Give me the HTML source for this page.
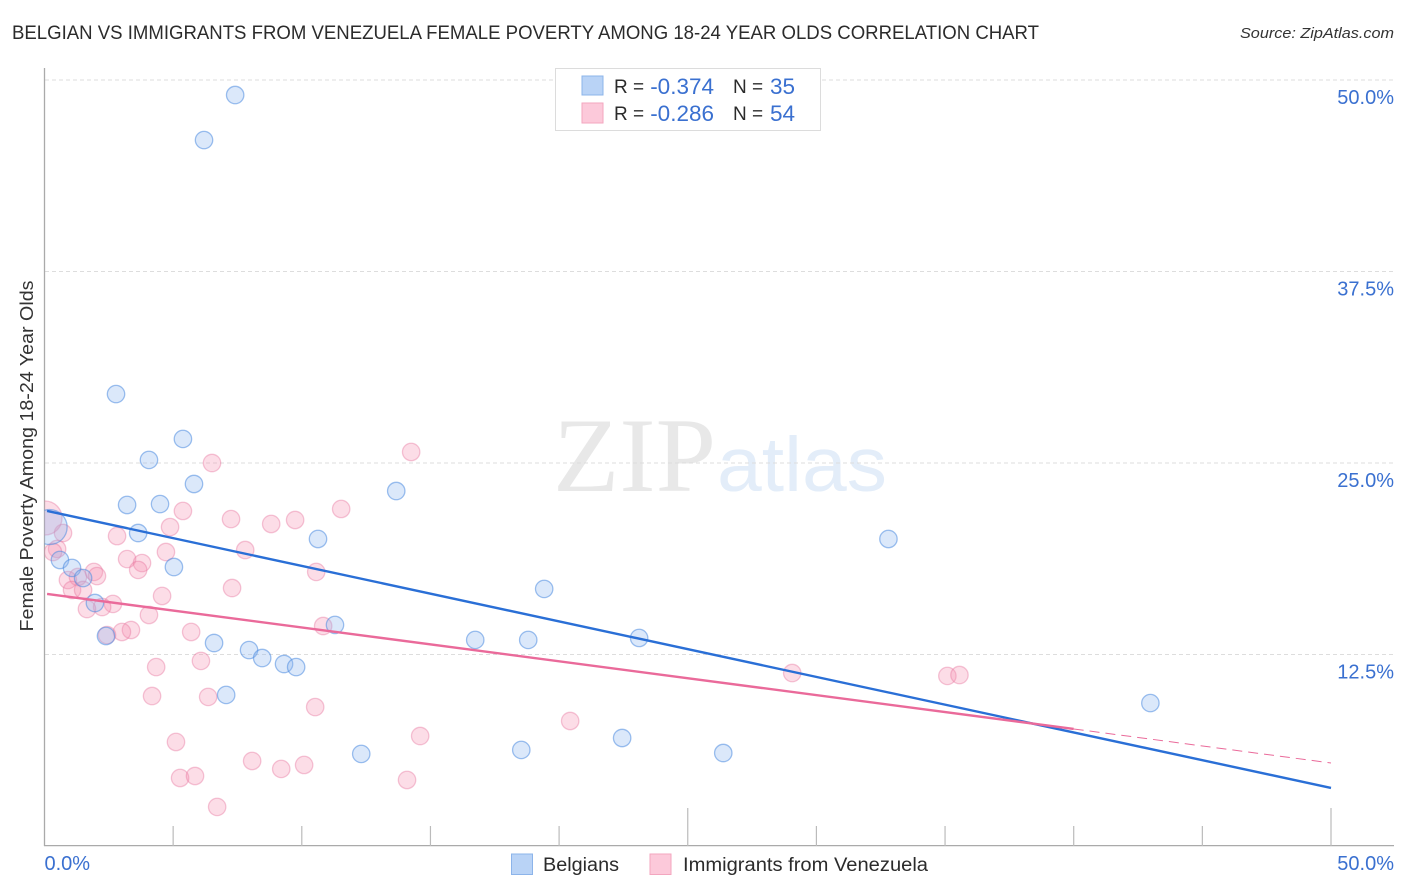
<!DOCTYPE html>
<html lang="en">
<head>
<meta charset="utf-8">
<title>Belgian vs Immigrants from Venezuela Female Poverty Correlation Chart</title>
<style>
html,body{margin:0;padding:0;background:#fff;width:1406px;height:892px;overflow:hidden}
svg{display:block;font-family:"Liberation Sans",sans-serif}
</style>
</head>
<body>
<svg id="chart" xmlns="http://www.w3.org/2000/svg" width="1406" height="892" viewBox="0 0 1406 892">
  <defs>
    <clipPath id="plot-clip"><rect x="44.5" y="60" width="1350" height="786"/></clipPath>
  </defs>
  <text x="12" y="39" font-size="19" fill="#2b2b2b" textLength="1027" lengthAdjust="spacingAndGlyphs">BELGIAN VS IMMIGRANTS FROM VENEZUELA FEMALE POVERTY AMONG 18-24 YEAR OLDS CORRELATION CHART</text>
  <text x="1394" y="38" font-size="15" font-style="italic" fill="#333" text-anchor="end" textLength="154" lengthAdjust="spacingAndGlyphs">Source: ZipAtlas.com</text>
  <g>
    <text x="553" y="491" font-size="106" font-family="'Liberation Serif',serif" fill="#e8e8e8" textLength="163" lengthAdjust="spacingAndGlyphs">ZIP</text>
    <text x="717" y="491" font-size="77" fill="#e3edf9" textLength="170" lengthAdjust="spacingAndGlyphs">atlas</text>
  </g>
  <g id="grid"></g>
  <g id="axes"></g>
  <g id="pts-pink" clip-path="url(#plot-clip)"></g>
  <g id="pts-blue" clip-path="url(#plot-clip)"></g>
  <g id="trends"></g>
  <text transform="translate(33,456) rotate(-90)" font-size="18" fill="#333" text-anchor="middle" textLength="351" lengthAdjust="spacingAndGlyphs">Female Poverty Among 18-24 Year Olds</text>
  <g>
    <rect x="555.5" y="68.5" width="265" height="62" fill="#fff" stroke="#dcdcdc"/>
    <rect x="582" y="76" width="21" height="19" fill="#b9d3f6" stroke="#8cb4ea"/>
    <rect x="582" y="103" width="21" height="20" fill="#fcc9da" stroke="#f3a6bf"/>
    <g font-size="20" fill="#2b2b2b">
      <text x="614" y="93" font-size="19">R =</text>
      <text x="733" y="93" font-size="19">N =</text>
      <text x="614" y="120" font-size="19">R =</text>
      <text x="733" y="120" font-size="19">N =</text>
    </g>
    <g font-size="22.5" fill="#3a70d0" text-anchor="end">
      <text x="714" y="94">-0.374</text>
      <text x="795" y="94">35</text>
      <text x="714" y="121">-0.286</text>
      <text x="795" y="121">54</text>
    </g>
  </g>
  <g>
    <rect x="511.5" y="854" width="21" height="20.5" fill="#b9d3f6" stroke="#8cb4ea"/>
    <text x="543" y="871" font-size="19" fill="#2b2b2b" textLength="76" lengthAdjust="spacingAndGlyphs">Belgians</text>
    <rect x="650" y="854" width="21" height="20.5" fill="#fcc9da" stroke="#f3a6bf"/>
    <text x="683" y="871" font-size="19" fill="#2b2b2b" textLength="245" lengthAdjust="spacingAndGlyphs">Immigrants from Venezuela</text>
  </g>
</svg>
<script>
const yTickValues = [12.5, 25, 37.5, 50];
const yTickLabels = ["12.5%", "25.0%", "37.5%", "50.0%"];
const xTickValues = [5, 10, 15, 20, 25, 30, 35, 40, 45, 50];
const xMajorTicks = [25, 50];
const xEndLabels = ["0.0%", "50.0%"];

const belgianX = [7.41,6.20,2.78,5.38,4.06,5.81,13.67,3.21,4.49,3.64,10.63,32.80,0.60,1.07,1.50,5.03,19.42,1.96,2.39,6.59,11.29,16.74,18.80,23.11,7.95,8.46,9.31,9.78,7.06,42.98,12.31,18.53,22.45,26.38,0.20];
const belgianY = [49.02,46.08,29.50,26.57,25.20,23.63,23.17,22.26,22.32,20.43,20.04,20.04,18.67,18.15,17.49,18.21,16.78,15.86,13.71,13.25,14.43,13.45,13.45,13.58,12.79,12.27,11.88,11.68,9.86,9.33,6.01,6.27,7.05,6.07,20.82];
const belgianSize = [8.7,8.7,8.7,8.7,8.7,8.7,8.7,8.7,8.7,8.7,8.7,8.7,8.7,8.7,8.7,8.7,8.7,8.7,8.7,8.7,8.7,8.7,8.7,8.7,8.7,8.7,8.7,8.7,8.7,8.7,8.7,8.7,8.7,8.7,17.5];

const venezuelaX = [14.25,6.51,11.53,5.38,7.25,8.81,9.74,4.88,2.82,0.72,0.02,7.80,4.72,0.49,0.33,3.21,3.79,3.64,10.56,1.92,2.04,0.91,1.30,1.07,1.50,7.29,4.57,2.66,2.24,1.65,4.06,10.83,5.70,3.36,3.01,2.43,6.08,4.34,29.06,35.09,35.56,4.18,6.36,10.52,20.43,14.60,5.11,8.07,9.20,10.09,14.09,5.27,5.85,6.71];
const venezuelaY = [25.72,25.00,22.00,21.87,21.34,21.02,21.28,20.82,20.23,20.43,21.41,19.32,19.19,19.39,19.19,18.73,18.47,18.02,17.89,17.89,17.62,17.36,17.56,16.71,16.71,16.84,16.32,15.80,15.60,15.47,15.08,14.36,13.97,14.10,13.97,13.77,12.08,11.68,11.29,11.10,11.16,9.79,9.73,9.07,8.16,7.18,6.79,5.55,5.03,5.29,4.31,4.44,4.57,2.55];
const venezuelaSize = [8.7,8.7,8.7,8.7,8.7,8.7,8.7,8.7,8.7,8.7,17,8.7,8.7,8.7,8.7,8.7,8.7,8.7,8.7,8.7,8.7,8.7,8.7,8.7,8.7,8.7,8.7,8.7,8.7,8.7,8.7,8.7,8.7,8.7,8.7,8.7,8.7,8.7,8.7,8.7,8.7,8.7,8.7,8.7,8.7,8.7,8.7,8.7,8.7,8.7,8.7,8.7,8.7,8.7];

const belgianTrendX = [0.1, 50];
const belgianTrendY = [21.87, 3.79];
const venezuelaTrendX = [0.1, 40];
const venezuelaTrendY = [16.45, 7.64];
const venezuelaDashX = [40, 50];
const venezuelaDashY = [7.64, 5.42];

const NS = 'http://www.w3.org/2000/svg';
function sx(v){ return 44.5 + v * 25.73; }
function sy(v){ return 846 - v * 15.32; }
function mk(parent, tag, attrs){
  const el = document.createElementNS(NS, tag);
  for (const k in attrs) el.setAttribute(k, attrs[k]);
  parent.appendChild(el);
  return el;
}

const grid = document.getElementById('grid');
yTickValues.forEach(function(v){
  const line = mk(grid, 'line', {x1:45, x2:1394, y1:sy(v), y2:sy(v), stroke:'#dddddd', 'stroke-width':1, 'stroke-dasharray':'4 3'});
  
  
});

const axes = document.getElementById('axes');
const yAxisLine = mk(axes, 'line', {x1:44.5, x2:44.5, y1:68, y2:846, stroke:'#aaaaaa', 'stroke-width':1.3});


const xAxisLine = mk(axes, 'line', {x1:44, x2:1394, y1:845.6, y2:845.6, stroke:'#aaaaaa', 'stroke-width':1.3});


xTickValues.forEach(function(v){
  const top = xMajorTicks.indexOf(v) >= 0 ? 808 : 826;
  const tick = mk(axes, 'line', {x1:sx(v), x2:sx(v), y1:top, y2:846, stroke:'#bbbbbb', 'stroke-width':1.2});
  
  
});
yTickValues.forEach(function(v, i){
  const t = mk(axes, 'text', {x:1394, y:sy(v) + 24, 'font-size':20, fill:'#3a70d0', 'text-anchor':'end'});
  
  
  t.textContent = yTickLabels[i];
});
const x0Label = mk(axes, 'text', {x:44.5, y:870, 'font-size':20, fill:'#3a70d0'});


x0Label.textContent = xEndLabels[0];
const x1Label = mk(axes, 'text', {x:1394, y:870, 'font-size':20, fill:'#3a70d0', 'text-anchor':'end'});


x1Label.textContent = xEndLabels[1];

const pinkGroup = document.getElementById('pts-pink');
venezuelaX.forEach(function(v, i){
  const c = mk(pinkGroup, 'circle', {cx:sx(v), cy:sy(venezuelaY[i]), r:venezuelaSize[i], fill:'#f48fb1', 'fill-opacity':0.3, stroke:'#e8789f', 'stroke-opacity':0.42, 'stroke-width':1.3});
  
  
});
const blueGroup = document.getElementById('pts-blue');
belgianX.forEach(function(v, i){
  const c = mk(blueGroup, 'circle', {cx:sx(v), cy:sy(belgianY[i]), r:belgianSize[i], fill:'#90b8ee', 'fill-opacity':0.32, stroke:'#4f8ce0', 'stroke-opacity':0.55, 'stroke-width':1.3});
  
  
});

const trends = document.getElementById('trends');
const blueTrend = mk(trends, 'line', {x1:sx(belgianTrendX[0]), y1:sy(belgianTrendY[0]), x2:sx(belgianTrendX[1]), y2:sy(belgianTrendY[1]), stroke:'#2a6fd6', 'stroke-width':2.4});


const pinkTrend = mk(trends, 'line', {x1:sx(venezuelaTrendX[0]), y1:sy(venezuelaTrendY[0]), x2:sx(venezuelaTrendX[1]), y2:sy(venezuelaTrendY[1]), stroke:'#ea6a9a', 'stroke-width':2.4});


const pinkDash = mk(trends, 'line', {x1:sx(venezuelaDashX[0]), y1:sy(venezuelaDashY[0]), x2:sx(venezuelaDashX[1]), y2:sy(venezuelaDashY[1]), stroke:'#ea6a9a', 'stroke-width':1, 'stroke-dasharray':'10 6'});


</script>
</body>
</html>
